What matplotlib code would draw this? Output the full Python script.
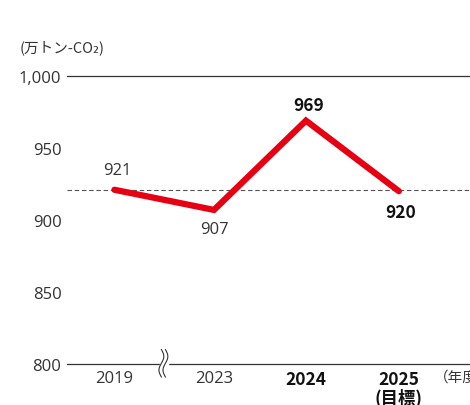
import matplotlib
matplotlib.use("Agg")
import matplotlib.pyplot as plt
import numpy as np

plt.rcParams['font.family'] = ['Open Sans', 'Noto Sans CJK JP', 'DejaVu Sans']
CJK = ['Noto Sans CJK JP', 'DejaVu Sans']

years = ["2019", "2023", "2024", "2025\n(目標)"]
bold = [False, False, True, True]
xpos = [0, 1.05, 2.02, 3.0]
values = [921, 907, 969, 920]
value_labels = ["921", "907", "969", "920"]
yticks = [800, 850, 900, 950, 1000]
ytick_labels = ["800", "850", "900", "950", "1,000"]
baseline = 921

W, H = 470, 406
fig = plt.figure(figsize=(W/100, H/100), dpi=100)
ax = fig.add_axes([67/W, 41/H, 1 - 67/W, 288/H])
ax.set_xlim(-0.5, 3.75)
ax.set_ylim(800, 1000)

for s in ['top', 'right', 'left']:
    ax.spines[s].set_visible(False)
ax.spines['bottom'].set_color('#333333')
ax.spines['bottom'].set_linewidth(0.9)
ax.axhline(1000, color='#333333', lw=0.9, clip_on=False)
ax.axhline(baseline, color='#555555', lw=0.8, ls=(0, (4, 2.5)))

ax.plot(xpos, values, color='#E60012', lw=4.5, solid_capstyle='round', solid_joinstyle='miter', zorder=3)

txtc = '#333333'
fs = 12
ax.set_yticks(yticks)
ax.set_yticklabels(ytick_labels, fontsize=fs, color=txtc)
ax.tick_params(axis='y', length=0, pad=4)
ax.set_xticks(xpos)
ax.set_xticklabels(years, fontsize=fs, color=txtc, linespacing=1.0)
for lab, b in zip(ax.get_xticklabels(), bold):
    if b:
        lab.set_fontweight('bold')
        lab.set_family(CJK)
        lab.set_fontsize(12.5)
        lab.set_color('#111111')
ax.tick_params(axis='x', length=0, pad=4)

offsets = [(2, 14), (0, -14), (2, 11), (1, -15)]
for x, v, l, b, (dx, dy) in zip(xpos, values, value_labels, bold, offsets):
    ax.annotate(l, (x, v), xytext=(dx, dy), textcoords='offset points',
                ha='center', va='center', fontsize=12.5 if b else fs,
                fontweight='bold' if b else 'normal',
                family=CJK if b else None,
                color='#111111' if b else txtc)

# axis break symbol
bx = (163 - 67) / 403
t = np.linspace(0, 1, 50)
yy = 0.05 - t * 0.095
wig = 0.006 * np.sin(t * 2 * np.pi)
ax.fill_between([bx - 0.008, bx + 0.012], [-0.01, -0.01], [0.01, 0.01],
                transform=ax.transAxes, color='white', clip_on=False, zorder=4)
for off in (-0.004, 0.006):
    ax.plot(bx + off + wig, yy, transform=ax.transAxes, color='#333333', lw=0.8,
            clip_on=False, zorder=5)

fig.text(20/W, 1 - 48/H, "(万トン-CO₂)", fontsize=10.5, color=txtc, va='center', ha='left',
         family=CJK)
fig.text(434/W, 1 - 378/H, "（年度）", fontsize=10.5, color=txtc, va='center', ha='left',
         family=CJK)

fig.savefig("out.png", dpi=100)
